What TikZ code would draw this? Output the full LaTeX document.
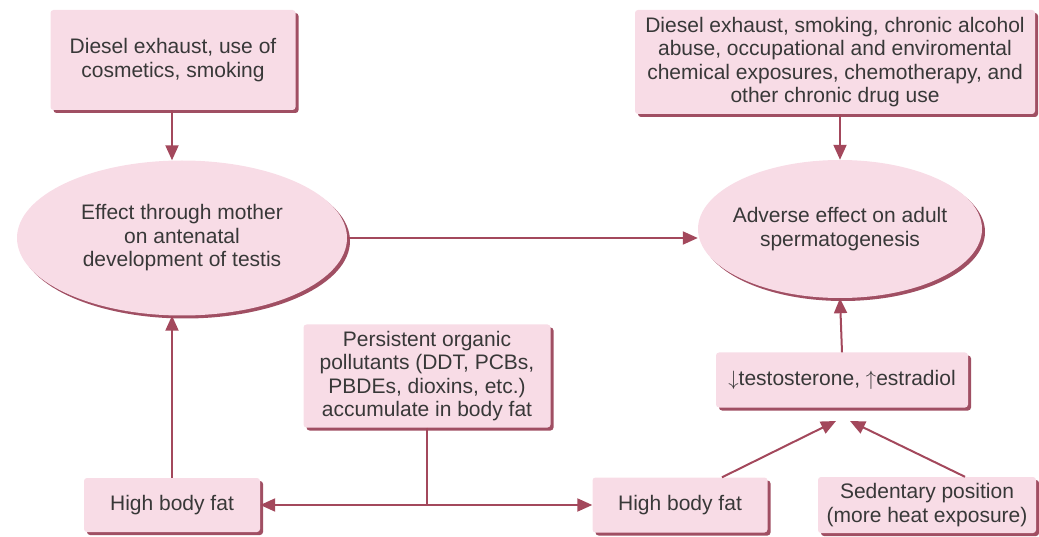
\documentclass[tikz,border=0pt]{standalone}
\usepackage{fontspec}
\setmainfont{Liberation Sans}
\usetikzlibrary{arrows.meta,shapes.geometric,shadows}

\definecolor{boxpink}{HTML}{F8DCE6}
\definecolor{boxshade}{HTML}{A04F63}
\definecolor{linkred}{HTML}{A3485C}
\definecolor{txtgray}{HTML}{383838}

\tikzset{
  factor/.style={rectangle, rounded corners=3pt, fill=boxpink, text=txtgray,
    align=center, inner sep=0pt,
    general shadow={fill=boxshade, shadow xshift=3pt, shadow yshift=-3pt}},
  outcome/.style={ellipse, fill=boxpink, text=txtgray, align=center, inner sep=0pt,
    general shadow={fill=boxshade, shadow xshift=3pt, shadow yshift=-3pt}},
  link/.style={draw=linkred, line width=2pt, -{Triangle[length=15pt,width=13pt]}},
  biglink/.style={link, {Triangle[length=15pt,width=13pt]}-{Triangle[length=15pt,width=13pt]}},
  plain/.style={draw=linkred, line width=2pt},
}

\begin{document}
\begin{tikzpicture}[x=1pt, y=-1pt, font=\fontsize{21}{23.5}\selectfont]

\useasboundingbox (0,0) rectangle (1039,537);

%% left column: antenatal route
\node [factor, minimum width=245, minimum height=100] (cosmetics) at (173,60)
  {Diesel exhaust, use of\\cosmetics, smoking};
\node [outcome, minimum width=330, minimum height=155] (mother) at (182,238)
  {Effect through mother\\on antenatal\\development of testis};
\node [factor, minimum width=176, minimum height=54] (fatL) at (172,505) {High body fat};

%% right column: adult route
\node [factor, minimum width=400, minimum height=104] (exposure) at (835,62)
  {Diesel exhaust, smoking, chronic alcohol\\abuse, occupational and enviromental\\chemical exposures, chemotherapy, and\\other chronic drug use};
\node [outcome, inner xsep=-8pt, minimum width=284, minimum height=138] (adverse) at (840,229)
  {Adverse effect on adult\\spermatogenesis};
\node [factor, minimum width=252, minimum height=55] (hormones) at (842,380)
  {$\downarrow$testosterone, $\uparrow$estradiol};
\node [factor, minimum width=175, minimum height=55] (fatR) at (680,505) {High body fat};
\node [factor, minimum width=218, minimum height=56] (sitting) at (927,505)
  {Sedentary position\\(more heat exposure)};

%% middle: pollutants stored in fat
\node [factor, minimum width=247, minimum height=103] (pops) at (427,376)
  {Persistent organic\\pollutants (DDT, PCBs,\\PBDEs, dioxins, etc.)\\accumulate in body fat};

\coordinate (meetA) at (836,421);
\coordinate (meetB) at (850,421);

%% connectors
\draw [link] (cosmetics.south -| fatL.north) -- (mother.north -| fatL.north);
\draw [link] (fatL.north) -- (fatL.north |- mother.south);
\draw [link] (mother.east) -- (adverse.west |- mother.east);
\draw [link] (adverse.north |- exposure.south) -- (adverse.north);
\draw [link] (hormones.north) -- (adverse.south);
\draw [plain] (pops.south) -- (pops.south |- fatL.east);
\draw [biglink] (fatL.east) -- (fatR.west);
\draw [link] ([xshift=42pt]fatR.north) -- (meetA);
\draw [link] ([xshift=38pt]sitting.north) -- (meetB);

\end{tikzpicture}
\end{document}
